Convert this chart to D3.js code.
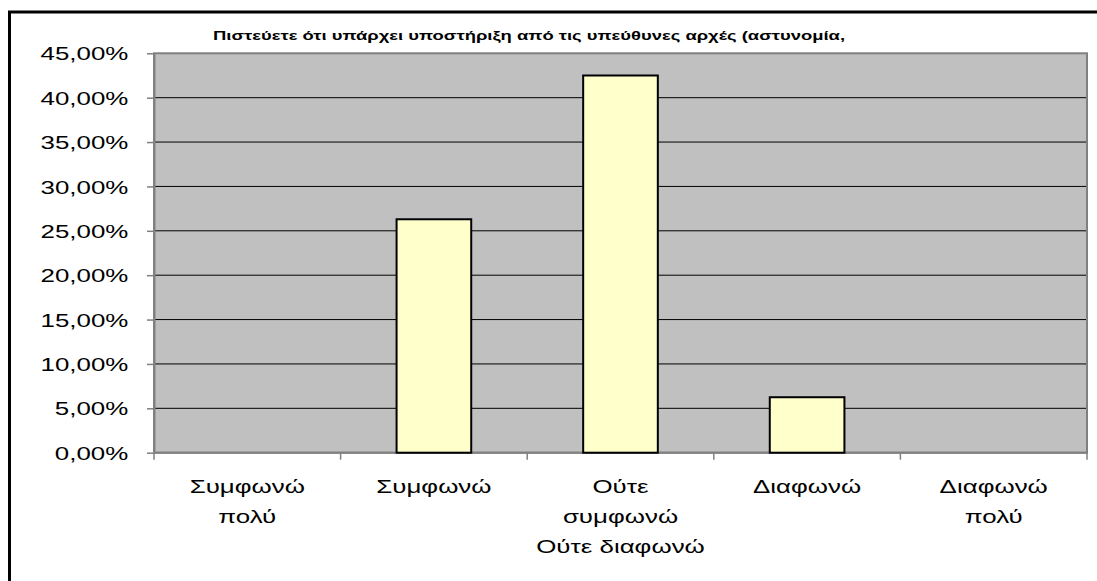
<!DOCTYPE html>
<html>
<head>
<meta charset="utf-8">
<script src="https://cdn.jsdelivr.net/npm/d3@7"></script>
<style>
  body { margin: 0; background: #fff; }
  text { font-family: "Liberation Sans", Arial, sans-serif; }
</style>
</head>
<body>
<div id="chart"></div>
<script>
// DATA //
const title = "Πιστεύετε ότι υπάρχει υποστήριξη από τις υπεύθυνες αρχές (αστυνομία,";
const categories = ["Συμφωνώ\nπολύ", "Συμφωνώ", "Ούτε\nσυμφωνώ\nΟύτε διαφωνώ", "Διαφωνώ", "Διαφωνώ\nπολύ"];
const values = [0, 26.3, 42.5, 6.25, 0];
const yTicks = [0, 5, 10, 15, 20, 25, 30, 35, 40, 45];

// DIMENSIONS //
const W = 1097, H = 581;
const plot = {left: 154, top: 53.3, right: 1087, bottom: 452.7};
const sx = 1.4; // the original picture is stretched horizontally

const svg = d3.select("#chart").append("svg")
    .attr("width", W)
    .attr("height", H);

svg.append("rect").attr("width", W).attr("height", H).attr("fill", "#fff");

// outer chart border
svg.append("rect")
    .attr("x", 9.5).attr("y", 12)
    .attr("width", 1100).attr("height", 600)
    .attr("fill", "none")
    .attr("stroke", "#000")
    .attr("stroke-width", 3);

// SCALES //
const x = d3.scaleBand()
    .domain(categories)
    .range([plot.left, plot.right])
    .padding(0);

const y = d3.scaleLinear()
    .domain([0, 45])
    .range([plot.bottom, plot.top]);

// plot background
svg.append("rect")
    .attr("x", plot.left).attr("y", plot.top)
    .attr("width", plot.right - plot.left)
    .attr("height", plot.bottom - plot.top)
    .attr("fill", "#c0c0c0");

// gridlines
svg.append("g")
    .selectAll("line")
    .data(yTicks.filter(d => d > 0 && d < 45))
    .join("line")
    .attr("x1", plot.left).attr("x2", plot.right)
    .attr("y1", d => y(d)).attr("y2", d => y(d))
    .attr("stroke", "#000")
    .attr("stroke-width", 1);

// plot border (top + right)
svg.append("rect")
    .attr("x", plot.left).attr("y", plot.top)
    .attr("width", plot.right - plot.left)
    .attr("height", plot.bottom - plot.top)
    .attr("fill", "none")
    .attr("stroke", "#808080")
    .attr("stroke-width", 2);

// Y AXIS //
const yAxis = svg.append("g")
    .attr("transform", "translate(" + plot.left + ",0)")
    .call(d3.axisLeft(y)
        .tickValues(yTicks)
        .tickSize(7)
        .tickSizeOuter(0)
        .tickFormat(d => d.toFixed(2).replace(".", ",") + "%"));

yAxis.select(".domain").attr("stroke", "#808080").attr("stroke-width", 2);
yAxis.selectAll(".tick line").attr("stroke", "#808080").attr("stroke-width", 1.5);
yAxis.selectAll(".tick text")
    .attr("x", -25.7 / sx)
    .attr("dy", "0.36em")
    .attr("transform", "scale(" + sx + ",1)")
    .attr("font-size", 18.5)
    .attr("font-family", "Liberation Sans, Arial, sans-serif")
    .attr("fill", "#000");

// X AXIS //
const xg = svg.append("g");

// axis line
xg.append("line")
    .attr("x1", plot.left).attr("x2", plot.right)
    .attr("y1", plot.bottom).attr("y2", plot.bottom)
    .attr("stroke", "#808080")
    .attr("stroke-width", 2);

// tick marks at the band boundaries
const boundaries = categories.map(c => x(c)).concat([x.range()[1]]);
xg.selectAll("line.tick")
    .data(boundaries)
    .join("line")
    .attr("class", "tick")
    .attr("x1", d => d).attr("x2", d => d)
    .attr("y1", plot.bottom).attr("y2", plot.bottom + 7)
    .attr("stroke", "#808080")
    .attr("stroke-width", 1.5);

// category labels
const labels = xg.selectAll("g.lab")
    .data(categories)
    .join("g")
    .attr("class", "lab")
    .attr("transform", d => "translate(" + (x(d) + x.bandwidth() / 2) + "," + (plot.bottom + 40) + ") scale(" + sx + ",1)");

labels.each(function(d) {
    d3.select(this).selectAll("text")
        .data(d.split("\n"))
        .join("text")
        .attr("y", (t, i) => i * 30)
        .attr("text-anchor", "middle")
        .attr("font-size", 18.5)
        .attr("fill", "#000")
        .text(t => t);
});

// BARS //
const barW = x.bandwidth() * 0.4;
svg.append("g")
    .selectAll("rect")
    .data(categories.map((c, i) => ({c: c, v: values[i]})).filter(d => d.v > 0))
    .join("rect")
    .attr("x", d => x(d.c) + (x.bandwidth() - barW) / 2)
    .attr("y", d => y(d.v))
    .attr("width", barW)
    .attr("height", d => y(0) - y(d.v))
    .attr("fill", "#ffffcc")
    .attr("stroke", "#000")
    .attr("stroke-width", 2);

// TITLE //
svg.append("text")
    .attr("x", 213)
    .attr("y", 39.5)
    .attr("font-size", 12.5)
    .attr("font-weight", "bold")
    .attr("textLength", 632)
    .attr("lengthAdjust", "spacingAndGlyphs")
    .attr("fill", "#000")
    .text(title);
</script>
</body>
</html>
